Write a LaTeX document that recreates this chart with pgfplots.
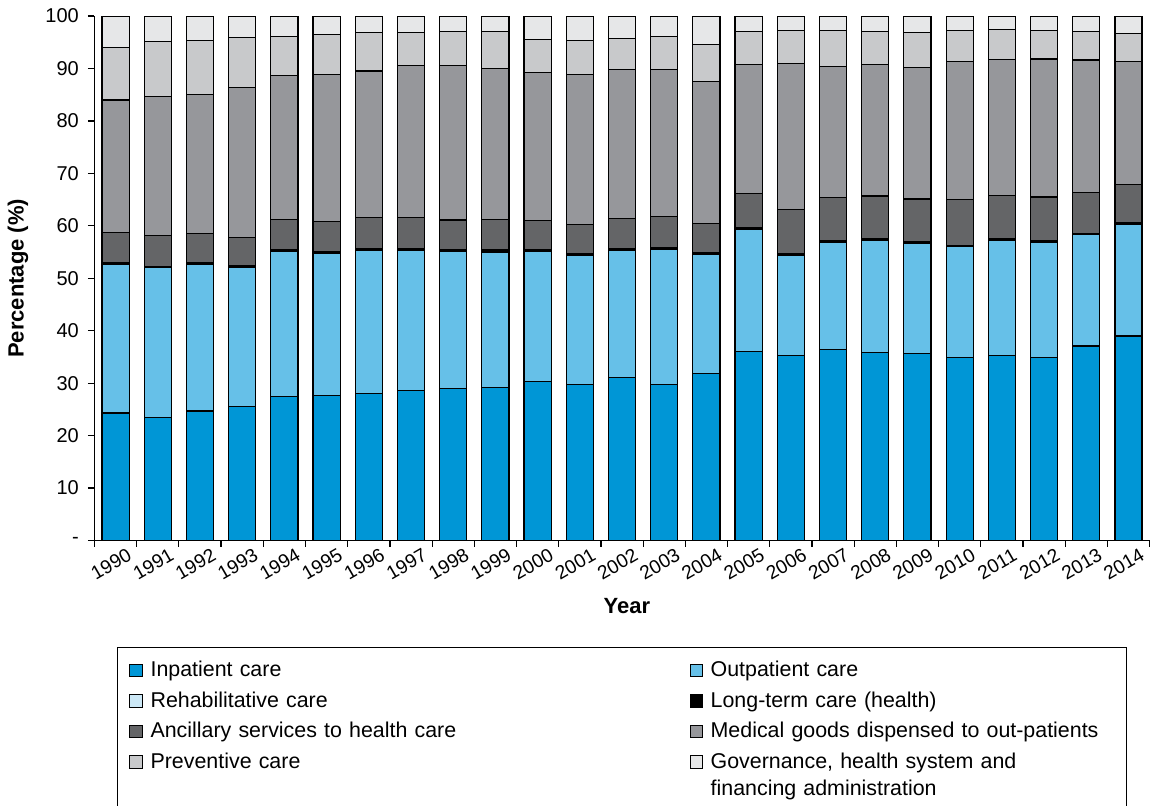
\documentclass[border=0pt]{standalone}
\usepackage{pgfplots}
\usepackage{pgfplotstable}
\pgfplotsset{compat=1.18}
\usepackage{fontspec}
\setmainfont{Liberation Sans}

\definecolor{cinp}{RGB}{0,150,214}
\definecolor{cout}{RGB}{102,192,232}
\definecolor{creh}{RGB}{204,232,246}
\definecolor{cltc}{RGB}{0,0,0}
\definecolor{canc}{RGB}{100,101,103}
\definecolor{cmed}{RGB}{150,151,155}
\definecolor{cpre}{RGB}{200,201,203}
\definecolor{cgov}{RGB}{230,231,232}

\pgfplotstableread{
x year inp out reh ltc anc med prev gov
0  1990 24.3 28.3 0 0.3 5.9 25.2 10.0 6.0
1  1991 23.5 28.5 0 0.3 5.9 26.4 10.5 4.9
2  1992 24.7 27.9 0 0.3 5.7 26.5 10.2 4.7
3  1993 25.5 26.6 0 0.3 5.4 28.5 9.6 4.1
4  1994 27.5 27.7 0 0.3 5.7 27.4 7.5 3.9
5  1995 27.7 27.1 0 0.3 5.7 28.0 7.6 3.6
6  1996 28.1 27.2 0 0.3 6.0 27.9 7.3 3.2
7  1997 28.6 26.8 0 0.3 5.9 28.9 6.3 3.2
8  1998 29.0 26.1 0 0.3 5.7 29.5 6.4 3.0
9  1999 29.2 25.8 0 0.4 5.8 28.8 7.0 3.0
10 2000 30.3 24.9 0 0.3 5.5 28.2 6.3 4.5
11 2001 29.7 24.6 0 0.4 5.6 28.5 6.5 4.7
12 2002 31.1 24.2 0 0.3 5.8 28.4 5.9 4.3
13 2003 29.7 25.8 0 0.3 6.0 28.0 6.3 3.9
14 2004 31.9 22.6 0 0.3 5.7 27.0 7.0 5.5
15 2005 36.1 23.2 0 0.3 6.5 24.6 6.4 2.9
16 2006 35.3 19.1 0 0.3 8.4 27.8 6.4 2.7
17 2007 36.4 20.4 0 0.3 8.3 24.9 7.0 2.7
18 2008 35.8 21.5 0 0.2 8.2 25.0 6.3 3.0
19 2009 35.6 21.1 0 0.3 8.1 25.1 6.7 3.1
20 2010 34.9 21.1 0 0.3 8.7 26.4 5.9 2.7
21 2011 35.3 22.0 0 0.2 8.3 25.9 5.7 2.6
22 2012 34.9 22.0 0 0.3 8.3 26.3 5.5 2.7
23 2013 37.1 21.2 0 0.2 7.9 25.2 5.5 2.9
24 2014 39.0 21.3 0 0.3 7.2 23.6 5.3 3.3
}\data

\pgfplotsset{
  mybar/.style={fill=#1, draw=black, line width=0.6pt,
    legend image code/.code={\draw[draw=black, line width=0.5pt, ##1] (0pt,0pt) rectangle (6.25pt,6.25pt);}},
  nobar/.style={draw=none, fill=none,
    legend image code/.code={\path (0pt,0pt) rectangle (6.25pt,6.25pt);}},
}

\begin{document}
\begin{tikzpicture}
\begin{axis}[
  scale only axis,
  width=527.5pt, height=262.25pt,
  ybar stacked, bar width=0.64,
  xmin=-0.5, xmax=24.5, ymin=0, ymax=100,
  enlargelimits=false,
  axis lines*=left,
  axis line style={line width=0.6pt, black},
  tick align=outside,
  major tick length=3.3pt,
  minor tick length=3pt,
  tick style={black, line width=0.6pt},
  xtick={0,...,24},
  major x tick style={draw=none},
  minor xtick={-0.5,0.5,...,24.5},
  xticklabels={1990,1991,1992,1993,1994,1995,1996,1997,1998,1999,2000,2001,2002,2003,2004,2005,2006,2007,2008,2009,2010,2011,2012,2013,2014},
  xticklabel style={font=\fontsize{9.6}{11}\selectfont, xshift=-2.25pt, yshift=-8.5pt, rotate=30, anchor=center},
  ytick={0,10,...,100},
  yticklabels={-,10,20,30,40,50,60,70,80,90,100},
  yticklabel style={font=\fontsize{10}{12}\selectfont, xshift=-1pt},
  /pgf/number format/assume math mode=true,
  xlabel={\textbf{Year}},
  ylabel={\textbf{Percentage (\%)}},
  every axis x label/.style={at={(axis description cs:0.5047,-0.1249)}, anchor=center, font=\fontsize{11}{13}\selectfont},
  every axis y label/.style={at={(axis description cs:-0.0725,0.5)}, rotate=90, anchor=center, font=\fontsize{11}{13}\selectfont},
  legend columns=2,
  legend style={
    at={(axis description cs:0.0213,-0.2032)}, anchor=north west,
    draw=black, line width=0.5pt,
    inner xsep=6pt, inner ysep=4.55pt,
    cells={anchor=base west},
    nodes={text width=202pt, align=left, inner xsep=0pt, inner ysep=0pt, text height=9.95pt, text depth=5.3pt, font=\fontsize{10.7}{13.4}\selectfont},
    /tikz/every odd column/.append style={column sep=3.8pt},
    /tikz/every even column/.append style={column sep=67.5pt},
    row sep=0pt,
  },
]
\addplot[mybar=cinp] table[x=x, y=inp]{\data};
\addlegendentry{Inpatient care}
\addplot[mybar=cout] table[x=x, y=out]{\data};
\addlegendentry{Outpatient care}
\addplot[mybar=creh] table[x=x, y=reh]{\data};
\addlegendentry{Rehabilitative care}
\addplot[mybar=cltc] table[x=x, y=ltc]{\data};
\addlegendentry{Long-term care (health)}
\addplot[mybar=canc] table[x=x, y=anc]{\data};
\addlegendentry{Ancillary services to health care}
\addplot[mybar=cmed] table[x=x, y=med]{\data};
\addlegendentry{Medical goods dispensed to out-patients}
\addplot[mybar=cpre] table[x=x, y=prev]{\data};
\addlegendentry{Preventive care}
\addplot[mybar=cgov] table[x=x, y=gov]{\data};
\addlegendentry{Governance, health system and}
\addplot[nobar] coordinates {(0,0)};
\addlegendentry[text height=8.2pt, text depth=16pt]{}
\addplot[nobar] coordinates {(0,0)};
\addlegendentry[text height=8.2pt, text depth=16pt]{financing administration}
\end{axis}
\pgfresetboundingbox
\path[use as bounding box] (-47.25pt,-132.25pt) rectangle (528.25pt,270.25pt);
\end{tikzpicture}
\end{document}
